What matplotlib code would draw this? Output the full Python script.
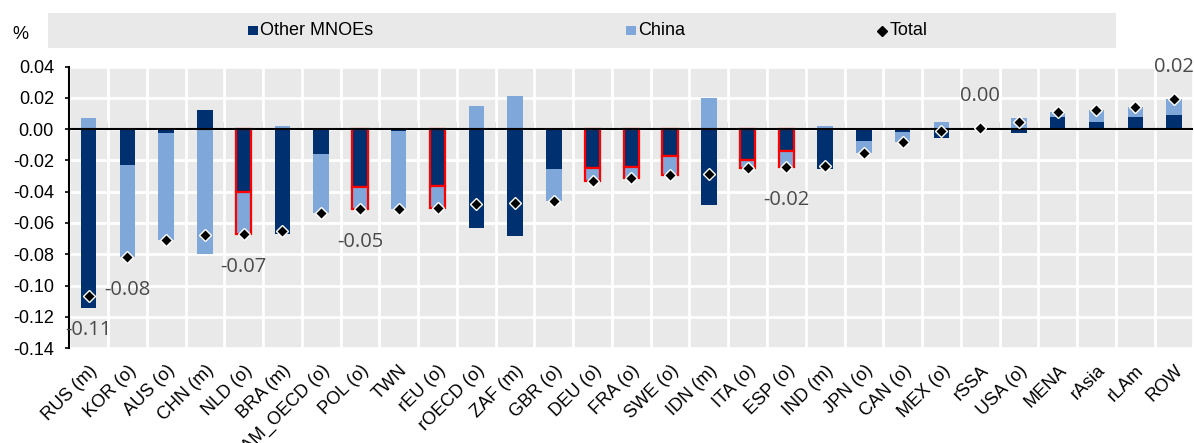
import matplotlib
matplotlib.use("Agg")
import matplotlib.pyplot as plt
from matplotlib.patches import Rectangle
from matplotlib.lines import Line2D
import numpy as np

# Contributions to the change, by economy (percent)
countries = ["RUS (m)", "KOR (o)", "AUS (o)", "CHN (m)", "NLD (o)", "BRA (m)",
             "LAM_OECD (o)", "POL (o)", "TWN", "rEU (o)", "rOECD (o)", "ZAF (m)",
             "GBR (o)", "DEU (o)", "FRA (o)", "SWE (o)", "IDN (m)", "ITA (o)",
             "ESP (o)", "IND (m)", "JPN (o)", "CAN (o)", "MEX (o)", "rSSA",
             "USA (o)", "MENA", "rAsia", "rLAm", "ROW"]
other_mnoes = [-0.1142, -0.0228, -0.0022, 0.0121, -0.0403, -0.0671, -0.0158,
               -0.0371, -0.0013, -0.0362, -0.0629, -0.0686, -0.0254, -0.0249,
               -0.0239, -0.0173, -0.0486, -0.0196, -0.0141, -0.0256, -0.0073,
               -0.0017, -0.0054, 0.0006, -0.0026, 0.0081, 0.0049, 0.0081, 0.0093]
china = [0.0072, -0.0590, -0.0685, -0.0797, -0.0268, 0.0021, -0.0379,
         -0.0140, -0.0497, -0.0145, 0.0149, 0.0215, -0.0208, -0.0081,
         -0.0076, -0.0119, 0.0198, -0.0051, -0.0100, 0.0023, -0.0080,
         -0.0062, 0.0045, 0.0004, 0.0070, 0.0032, 0.0074, 0.0059, 0.0099]
highlighted = ["NLD (o)", "POL (o)", "rEU (o)", "DEU (o)", "FRA (o)",
               "SWE (o)", "ITA (o)", "ESP (o)"]
labelled = ["RUS (m)", "KOR (o)", "NLD (o)", "POL (o)", "ESP (o)", "rSSA", "ROW"]
y_ticks = [0.04, 0.02, 0.00, -0.02, -0.04, -0.06, -0.08, -0.10, -0.12, -0.14]

DARK = "#00306F"
LIGHT = "#7FA7DA"
BG = "#E9E9E9"
RED = "#FF0000"
TICK_FONT = ["Liberation Sans Narrow", "Liberation Sans", "DejaVu Sans"]
LABEL_FONT = ["Open Sans", "DejaVu Sans"]

other = np.array(other_mnoes)
chn = np.array(china)
total = other + chn
x = np.arange(len(countries))

# China stacks on the MNOE segment when both point the same way
china_bottom = np.where(np.sign(chn) == np.sign(other), other, 0.0)

fig = plt.figure(figsize=(11.94, 4.43), dpi=100)
ax = fig.add_axes([0.058, 0.2144, 0.9415, 0.635])
ax.set_facecolor(BG)

edge = [RED if c in highlighted else "none" for c in countries]
lw = [1.6 if c in highlighted else 0 for c in countries]
ax.bar(x, other, width=0.4, color=DARK, edgecolor=edge, linewidth=lw, zorder=3)
ax.bar(x, chn, width=0.4, bottom=china_bottom, color=LIGHT, edgecolor=edge,
       linewidth=lw, zorder=3)
ax.plot(x, total, linestyle="none", marker="D", markersize=6.5,
        markerfacecolor="black", markeredgecolor="white", markeredgewidth=1.0,
        zorder=5)

for i, c in enumerate(countries):
    if c in labelled:
        dy = 23 if total[i] >= 0 else -24
        ax.annotate(f"{total[i]:.2f}", (x[i], total[i]), xytext=(0, dy),
                    textcoords="offset points", ha="center", va="center",
                    fontsize=14.5, color="#4a4a4a", family=LABEL_FONT, zorder=6)

ax.set_xlim(-0.5, len(countries) - 0.5)
ax.set_ylim(-0.14, 0.04)
ax.set_yticks(y_ticks)
ax.set_yticklabels([f"{v:.2f}" for v in y_ticks], family=TICK_FONT, fontsize=13)
ax.tick_params(axis="y", direction="out", length=3, width=1.2, pad=8)

ax.set_xticks(x)
ax.set_xticklabels(countries, rotation=45, ha="right", rotation_mode="anchor",
                   family=TICK_FONT, fontsize=13)
ax.tick_params(axis="x", length=0, pad=10)

# white grid: horizontal at ticks, vertical between categories
for v in y_ticks:
    ax.axhline(v, color="white", lw=2, zorder=1)
for b in np.arange(len(countries) + 1) - 0.5:
    ax.axvline(b, color="white", lw=2, zorder=1)

for s in ["top", "right", "bottom"]:
    ax.spines[s].set_visible(False)
ax.spines["left"].set_color("black")
ax.spines["left"].set_linewidth(1.5)
ax.spines["left"].set_zorder(4)

# zero line with small category ticks pointing upward
ax.axhline(0, color="black", lw=1.5, zorder=4)
y0 = (0 - (-0.14)) / 0.18
zero_axis = ax.secondary_xaxis(y0)
zero_axis.set_xticks(np.arange(1, len(countries)) - 0.5)
zero_axis.tick_params(axis="x", direction="out", length=5, width=1.3,
                      labelbottom=False, labeltop=False)
zero_axis.spines["top"].set_visible(False)
zero_axis.spines["bottom"].set_visible(False)

fig.text(0.0167, 0.921, "%", family=TICK_FONT, fontsize=13, ha="center",
         va="center")

# legend band
fig.patches.append(Rectangle((48 / 1194, 1 - 48 / 443), (1116 - 48) / 1194,
                             35 / 443, transform=fig.transFigure,
                             facecolor=BG, edgecolor="none"))
ly = 1 - 30.5 / 443
sq = 9.5
for px, col, txt in [(248, DARK, "Other MNOEs"), (626, LIGHT, "China")]:
    fig.patches.append(Rectangle((px / 1194, ly - sq / 2 / 443), sq / 1194,
                                 sq / 443, transform=fig.transFigure,
                                 facecolor=col, edgecolor="none"))
    fig.text((px + sq + 3) / 1194, ly, txt, family=TICK_FONT, fontsize=13,
             ha="left", va="center")
fig.lines.append(Line2D([882 / 1194], [ly], transform=fig.transFigure,
                        marker="D", markersize=5, color="black",
                        linestyle="none"))
fig.text(890 / 1194, ly, "Total", family=TICK_FONT, fontsize=13, ha="left",
         va="center")

fig.savefig("out.png", dpi=100)
